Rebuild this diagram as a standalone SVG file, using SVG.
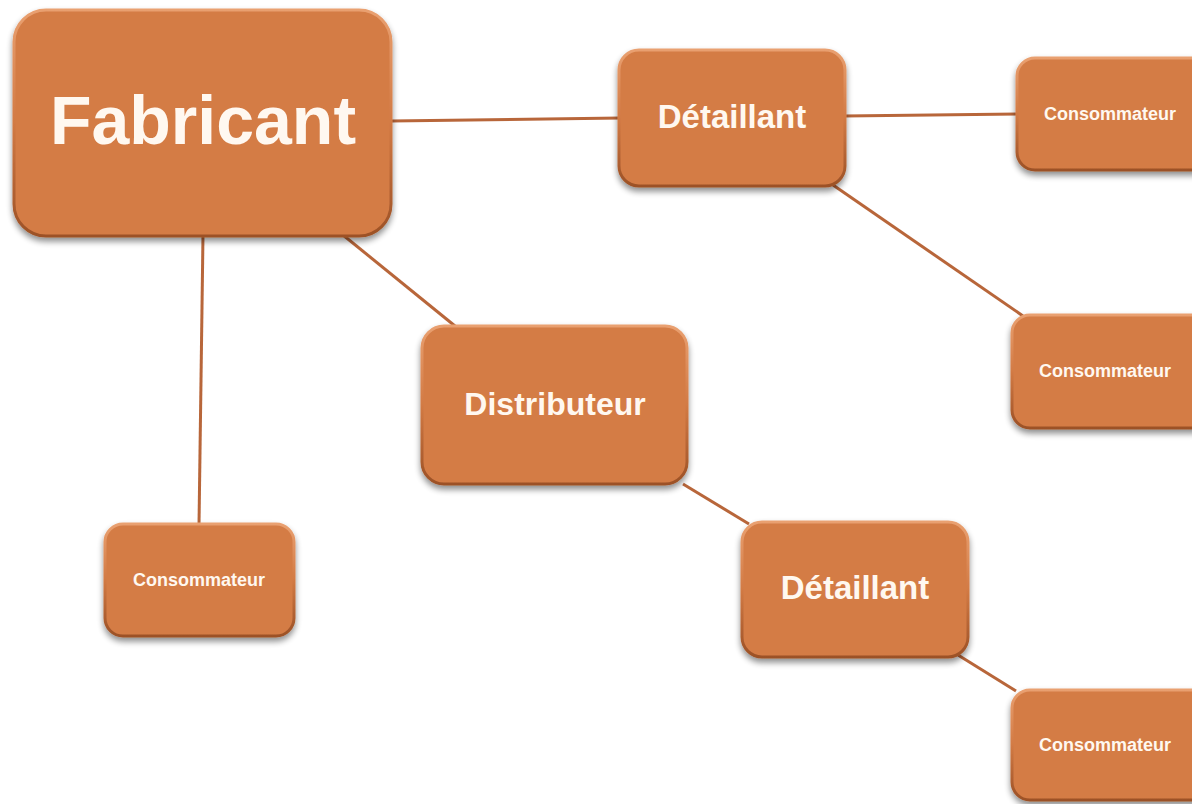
<svg xmlns="http://www.w3.org/2000/svg" width="1192" height="804" viewBox="0 0 1192 804">
<defs>
<filter id="sh" x="-10%" y="-10%" width="120%" height="130%">
<feGaussianBlur in="SourceAlpha" stdDeviation="3"/>
<feOffset dx="0" dy="4" result="b"/>
<feComponentTransfer in="b" result="s"><feFuncA type="linear" slope="0.45"/></feComponentTransfer>
<feMerge><feMergeNode in="s"/><feMergeNode in="SourceGraphic"/></feMerge>
</filter>
<linearGradient id="edge" x1="0" y1="0" x2="0" y2="1">
<stop offset="0" stop-color="#e9a070"/>
<stop offset="0.5" stop-color="#d27a44"/>
<stop offset="1" stop-color="#9c5126"/>
</linearGradient>
</defs>
<style>
.box{fill:#d47b45;stroke:url(#edge);stroke-width:3;filter:url(#sh)}
.lbl{font-family:"Liberation Sans",Arial,sans-serif;font-weight:bold;fill:#fff8f0;text-anchor:middle;dominant-baseline:central}
.c{stroke:#b8663a;stroke-width:3;fill:none}
</style>
<rect width="1192" height="804" fill="#ffffff"/>
<g id="connectors">
<line class="c" x1="391" y1="121" x2="621" y2="118"/>
<line class="c" x1="844" y1="116" x2="1018" y2="114"/>
<line class="c" x1="833" y1="185" x2="1023" y2="316"/>
<line class="c" x1="343" y1="235" x2="455" y2="326"/>
<line class="c" x1="203" y1="235" x2="199" y2="525"/>
<line class="c" x1="683" y1="484" x2="749" y2="524"/>
<line class="c" x1="958" y1="655" x2="1016" y2="691"/>
</g>
<g id="fabricant">
<rect class="box" x="14" y="10" width="377" height="226" rx="32"/>
<text class="lbl" x="203" y="120" font-size="68">Fabricant</text>
</g>
<g id="detaillant1">
<rect class="box" x="619" y="50" width="226" height="136" rx="20"/>
<text class="lbl" x="732" y="116" font-size="33">Détaillant</text>
</g>
<g id="consommateur1">
<rect class="box" x="1017" y="58" width="200" height="112" rx="18"/>
<text class="lbl" x="1110" y="114" font-size="18">Consommateur</text>
</g>
<g id="consommateur2">
<rect class="box" x="1012" y="315" width="200" height="113" rx="18"/>
<text class="lbl" x="1105" y="371" font-size="18">Consommateur</text>
</g>
<g id="distributeur">
<rect class="box" x="422" y="326" width="265" height="158" rx="22"/>
<text class="lbl" x="555" y="404" font-size="32">Distributeur</text>
</g>
<g id="detaillant2">
<rect class="box" x="742" y="522" width="226" height="135" rx="20"/>
<text class="lbl" x="855" y="587" font-size="33">Détaillant</text>
</g>
<g id="consommateur3">
<rect class="box" x="1012" y="690" width="200" height="110" rx="18"/>
<text class="lbl" x="1105" y="745" font-size="18">Consommateur</text>
</g>
<g id="consommateur4">
<rect class="box" x="105" y="524" width="189" height="112" rx="18"/>
<text class="lbl" x="199" y="580" font-size="18">Consommateur</text>
</g>
</svg>
